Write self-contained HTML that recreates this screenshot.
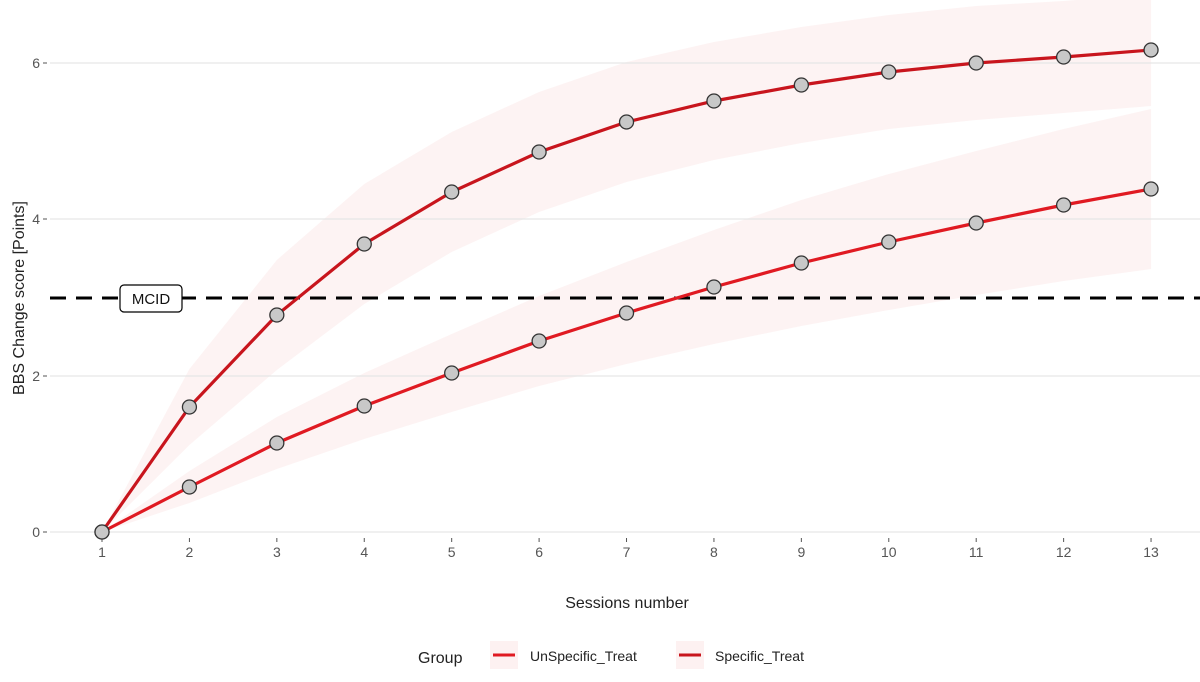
<!DOCTYPE html>
<html><head><style>body{margin:0;background:#fff}svg{display:block}text{font-family:"Liberation Sans",sans-serif}</style></head><body>
<svg width="1200" height="682" xmlns="http://www.w3.org/2000/svg">
<g id="bands"></g>
<g stroke="#e6e6e6" stroke-width="1.2">
<line x1="50" x2="1200" y1="532" y2="532"/><line x1="50" x2="1200" y1="376" y2="376"/><line x1="50" x2="1200" y1="219" y2="219"/><line x1="50" x2="1200" y1="63" y2="63"/>
</g>
<g fill="#555" font-size="14" text-anchor="end">
<text x="40" y="537">0</text><text x="40" y="381">2</text><text x="40" y="224">4</text><text x="40" y="68">6</text>
</g>
<g stroke="#555" stroke-width="1"><line x1="43" x2="47" y1="532" y2="532"/><line x1="43" x2="47" y1="376" y2="376"/><line x1="43" x2="47" y1="219" y2="219"/><line x1="43" x2="47" y1="63" y2="63"/></g>
<text transform="translate(24,298) rotate(-90)" font-size="16" fill="#222" text-anchor="middle">BBS Change score [Points]</text>
<g id="xt" fill="#555" font-size="14" text-anchor="middle"></g>
<text x="627" y="608" font-size="16" fill="#222" text-anchor="middle">Sessions number</text>
<line x1="50" x2="1200" y1="298" y2="298" stroke="#000" stroke-width="3" stroke-dasharray="16,10"/>
<rect x="120" y="285" width="62" height="27" rx="4" fill="#fff" stroke="#000" stroke-width="1.2"/>
<text x="151" y="304" font-size="15" text-anchor="middle" fill="#111">MCID</text>
<g id="lines"></g>
<text x="418" y="663" font-size="16" fill="#222">Group</text>
<rect x="490" y="641" width="28" height="28" fill="#fdf1f1"/><line x1="493" x2="515" y1="655" y2="655" stroke="#e01a22" stroke-width="3"/>
<text x="530" y="661" font-size="14" fill="#222">UnSpecific_Treat</text>
<rect x="676" y="641" width="28" height="28" fill="#fdf1f1"/><line x1="679" x2="701" y1="655" y2="655" stroke="#c8151d" stroke-width="3"/>
<text x="715" y="661" font-size="14" fill="#222">Specific_Treat</text>
<script>
var X=i=>102+i*87.42;
var U=[532,407,315,244,192,152,122,101,85,72,63,57,50];
var L=[532,487,443,406,373,341,313,287,263,242,223,205,189];
var uw=[0,38,55,60,60,60,60,59,58,57,57,56,56];
var lw=[0,16,26,33,39,45,51,57,63,68,72,76,80];
var ns="http://www.w3.org/2000/svg";
function el(p,t,a){var e=document.createElementNS(ns,t);for(var k in a)e.setAttribute(k,a[k]);p.appendChild(e);return e;}
function band(c,w){var t=[],b=[];for(var i=0;i<13;i++){t.push(X(i)+","+(c[i]-w[i]));b.unshift(X(i)+","+(c[i]+w[i]));}el(document.getElementById("bands"),"polygon",{points:t.concat(b).join(" "),fill:"#fbe4e4","fill-opacity":"0.45"});}
band(L,lw);band(U,uw);
var xt=document.getElementById("xt");
for(var i=0;i<13;i++){var t=el(xt,"text",{x:X(i),y:557});t.textContent=i+1;el(xt,"line",{x1:X(i),x2:X(i),y1:538,y2:542,stroke:"#555"});}
var g=document.getElementById("lines");
function line(c,col){el(g,"polyline",{points:c.map((y,i)=>X(i)+","+y).join(" "),fill:"none",stroke:col,"stroke-width":3.2});}
line(L,"#e01a22");line(U,"#c8151d");
function pts(c){c.forEach((y,i)=>el(g,"circle",{cx:X(i),cy:y,r:7,fill:"#c8c8c8",stroke:"#333","stroke-width":1.3}));}
pts(L);pts(U);
</script>
</svg></body></html>
